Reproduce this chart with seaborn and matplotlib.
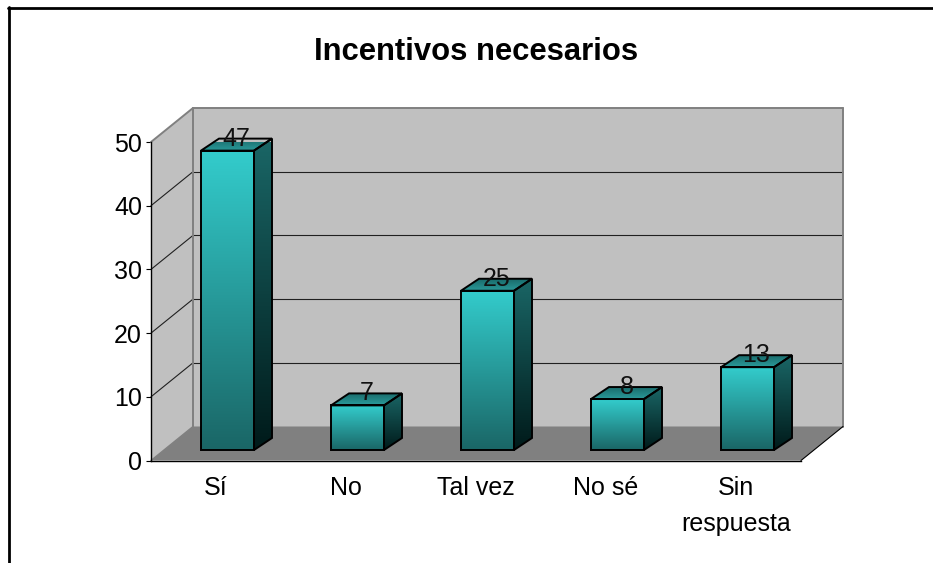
import numpy as np
import pandas as pd
import matplotlib
matplotlib.use("Agg")
import matplotlib.pyplot as plt
from matplotlib.colors import LinearSegmentedColormap
from matplotlib.lines import Line2D
from matplotlib.patches import Polygon
from matplotlib.transforms import IdentityTransform
import seaborn as sns

categorias = ["Sí", "No", "Tal vez", "No sé", "Sin\nrespuesta"]
valores = [47, 7, 25, 8, 13]
ticks_y = [0, 10, 20, 30, 40, 50]
titulo = "Incentivos necesarios"

sns.set_theme(style="white")
plt.rcParams["font.family"] = ["Liberation Sans", "DejaVu Sans"]

W, H = 933, 563
fig = plt.figure(figsize=(W / 100, H / 100), dpi=100, facecolor="white")
ax = fig.add_axes([151 / W, (H - 460.5) / H, 650 / W, 318.5 / H])
ax.patch.set_visible(False)

df = pd.DataFrame({"Categoria": categorias, "Valor": valores})
sns.barplot(data=df, x="Categoria", y="Valor", width=53 / 130, color="#33CCCC", ax=ax, zorder=3)
ax.set_xlim(-0.5, 4.5)
ax.set_ylim(0, 50)
ax.set_xlabel("")
ax.set_ylabel("")

# profundidad del grafico 3D, en pixeles
PX = IdentityTransform()
FONDO = (42, 34)
OFF_BARRA = (11.5, 10.5)
PROF_BARRA = (18, 12)


def punto(x, y, dx=0, dy=0):
    px, py = ax.transData.transform((x, y))
    return px + dx, py + dy


def poly(puntos, z, **kw):
    p = Polygon(puntos, closed=True, transform=PX, zorder=z, clip_on=False, **kw)
    ax.add_patch(p)
    return p


def linea(a, b, color="#202020", lw=0.8, z=1):
    ax.add_line(Line2D([a[0], b[0]], [a[1], b[1]], transform=PX, color=color, lw=lw,
                       zorder=z, clip_on=False))


def degradado(puntos, arriba, abajo, z):
    # degradado vertical recortado por el poligono de la cara
    cmap = LinearSegmentedColormap.from_list("cara", [arriba, abajo])
    xs = [p[0] for p in puntos]
    ys = [p[1] for p in puntos]
    im = ax.imshow(np.linspace(0, 1, 128).reshape(-1, 1), cmap=cmap, aspect="auto", transform=PX,
                   extent=(min(xs), max(xs), min(ys), max(ys)), origin="upper", zorder=z)
    im.set_clip_path(poly(puntos, z, fc="none", ec="none"))
    poly(puntos, z + 0.1, fc="none", ec="black", lw=1.4, joinstyle="miter")


# paredes y piso
dx, dy = FONDO
a0, b0 = -0.5, 4.5
poly([punto(a0, 0), punto(a0, 50), punto(a0, 50, dx, dy), punto(a0, 0, dx, dy)], 0.5, fc="#C0C0C0", ec="none")
poly([punto(a0, 0, dx, dy), punto(a0, 50, dx, dy), punto(b0, 50, dx, dy), punto(b0, 0, dx, dy)], 0.5,
     fc="#C0C0C0", ec="none")
poly([punto(a0, 0), punto(a0, 0, dx, dy), punto(b0, 0, dx, dy), punto(b0, 0)], 0.6, fc="#808080", ec="none")

for t in ticks_y[1:-1]:
    linea(punto(a0, t), punto(a0, t, dx, dy))
    linea(punto(a0, t, dx, dy), punto(b0, t, dx, dy))
gris = "#808080"
linea(punto(a0, 50), punto(a0, 50, dx, dy), color=gris, lw=1.4)
linea(punto(a0, 50, dx, dy), punto(b0, 50, dx, dy), color=gris, lw=1.4)
linea(punto(a0, 0, dx, dy), punto(a0, 50, dx, dy), color=gris, lw=1.4)
linea(punto(b0, 0, dx, dy), punto(b0, 50, dx, dy), color=gris, lw=1.4)
linea(punto(a0, 0), punto(a0, 0, dx, dy), color=gris, lw=1)
linea(punto(b0, 0), punto(b0, 0, dx, dy), color="black", lw=0.8)

# barras
ox, oy = OFF_BARRA
px_, py_ = PROF_BARRA
for i, barra in enumerate(list(ax.patches[:len(valores)])):
    x0 = barra.get_x()
    x1 = x0 + barra.get_width()
    v = valores[i]
    barra.set_visible(False)
    z = 3 + i
    ll = punto(x0, 0, ox, oy)
    lr = punto(x1, 0, ox, oy)
    ul = punto(x0, v, ox, oy)
    ur = punto(x1, v, ox, oy)
    degradado([ul, ur, lr, ll], "#33CCCC", "#1A6666", z)
    degradado([ur, (ur[0] + px_, ur[1] + py_), (lr[0] + px_, lr[1] + py_), lr], "#1A6666", "#001A1A", z)
    degradado([ul, (ul[0] + px_, ul[1] + py_), (ur[0] + px_, ur[1] + py_), ur], "#1A6B6B", "#2A9A9A", z)
    cx = (ul[0] + ur[0]) / 2 + 9
    ax.text(cx, ul[1] + 12, str(v), transform=PX, ha="center", va="center", fontsize=18,
            color="#111111", zorder=20, clip_on=False)

ax.set_xlim(-0.5, 4.5)
ax.set_ylim(0, 50)

# ejes
sns.despine(ax=ax, top=True, right=True)
for lado in ["left", "bottom"]:
    ax.spines[lado].set_color("black")
    ax.spines[lado].set_linewidth(1.0)
    ax.spines[lado].set_zorder(2)
ax.set_yticks(ticks_y)
ax.set_xticks(range(len(categorias)))
ax.set_xticklabels(categorias, linespacing=1.62)
ax.set_xticks(np.arange(-0.5, 5, 1), minor=True)
ax.tick_params(axis="x", which="major", length=0, labelsize=18, pad=11, colors="black")
ax.tick_params(axis="x", which="minor", length=3.5, width=0.8, color="black")
ax.tick_params(axis="y", length=3.5, width=0.8, labelsize=18, pad=3, left=True, colors="black")

fig.text(476 / W, (H - 52) / H, titulo, ha="center", va="center", fontsize=22.3, fontweight="bold", color="black")

# marco exterior: solo arriba e izquierda
fig.add_artist(Line2D([8.5 / W, 8.5 / W], [0, (H - 7) / H], color="black", lw=2))
fig.add_artist(Line2D([8 / W, 1], [(H - 7.5) / H, (H - 7.5) / H], color="black", lw=2))

fig.savefig("out.png", dpi=100)
plt.close(fig)
